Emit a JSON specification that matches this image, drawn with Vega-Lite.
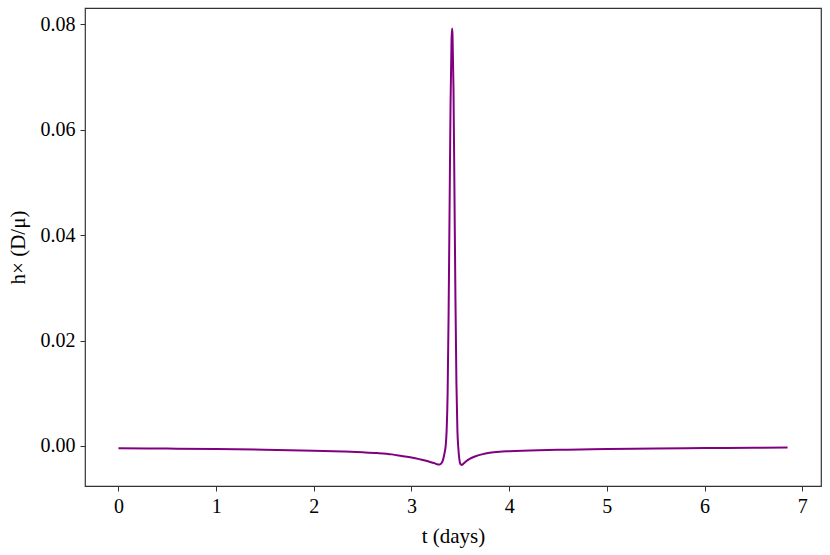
{
  "$schema": "https://vega.github.io/schema/vega-lite/v6.json",
  "autosize": "none",
  "width": 736,
  "height": 478,
  "padding": {"left": 85, "top": 8, "right": 9, "bottom": 69},
  "background": "white",
  "config": {
    "view": {"stroke": "#333333", "strokeWidth": 1.2},
    "font": "Liberation Serif",
    "axis": {
      "grid": false,
      "domain": false,
      "tickColor": "#333333",
      "tickSize": 5,
      "tickWidth": 1,
      "labelColor": "black",
      "titleColor": "black",
      "labelFont": "Liberation Serif",
      "titleFont": "Liberation Serif",
      "labelFontSize": 20,
      "titleFontSize": 21,
      "titleFontWeight": "normal",
      "labelPadding": 5
    }
  },
  "data": {
    "values": [
      {"t": 0.0, "h": -0.00045},
      {"t": 0.5, "h": -0.0005},
      {"t": 1.0, "h": -0.0006},
      {"t": 1.5, "h": -0.0007},
      {"t": 2.0, "h": -0.0009},
      {"t": 2.3, "h": -0.00105},
      {"t": 2.5, "h": -0.0012},
      {"t": 2.65, "h": -0.00135},
      {"t": 2.8, "h": -0.0016},
      {"t": 2.9, "h": -0.0019},
      {"t": 3.0, "h": -0.0022},
      {"t": 3.08, "h": -0.0025},
      {"t": 3.15, "h": -0.0028},
      {"t": 3.2, "h": -0.0031},
      {"t": 3.24, "h": -0.0033},
      {"t": 3.27, "h": -0.0035},
      {"t": 3.29, "h": -0.0035},
      {"t": 3.31, "h": -0.0032},
      {"t": 3.325, "h": -0.0025},
      {"t": 3.34, "h": -0.0012},
      {"t": 3.35, "h": 0.0},
      {"t": 3.36, "h": 0.003},
      {"t": 3.37, "h": 0.010},
      {"t": 3.38, "h": 0.025},
      {"t": 3.39, "h": 0.045},
      {"t": 3.40, "h": 0.065},
      {"t": 3.41, "h": 0.077},
      {"t": 3.416, "h": 0.0792},
      {"t": 3.42, "h": 0.078},
      {"t": 3.43, "h": 0.068},
      {"t": 3.44, "h": 0.048},
      {"t": 3.45, "h": 0.028},
      {"t": 3.46, "h": 0.012},
      {"t": 3.47, "h": 0.003},
      {"t": 3.48, "h": -0.0005},
      {"t": 3.49, "h": -0.0025},
      {"t": 3.50, "h": -0.0034},
      {"t": 3.515, "h": -0.0036},
      {"t": 3.53, "h": -0.0034},
      {"t": 3.56, "h": -0.0029},
      {"t": 3.60, "h": -0.0024},
      {"t": 3.65, "h": -0.0020},
      {"t": 3.72, "h": -0.0016},
      {"t": 3.80, "h": -0.0013},
      {"t": 3.90, "h": -0.0011},
      {"t": 4.0, "h": -0.0010},
      {"t": 4.3, "h": -0.0008},
      {"t": 4.6, "h": -0.0007},
      {"t": 5.0, "h": -0.0006},
      {"t": 5.5, "h": -0.0005},
      {"t": 6.0, "h": -0.0004},
      {"t": 6.5, "h": -0.00035},
      {"t": 6.85, "h": -0.0003}
    ]
  },
  "mark": {"type": "line", "color": "#800080", "strokeWidth": 2, "interpolate": "monotone"},
  "encoding": {
    "x": {
      "field": "t", "type": "quantitative",
      "scale": {"domain": [-0.3425, 7.1925], "nice": false, "zero": false},
      "axis": {"values": [0, 1, 2, 3, 4, 5, 6, 7], "format": "d", "title": "t (days)", "titlePadding": 9}
    },
    "y": {
      "field": "h", "type": "quantitative",
      "scale": {"domain": [-0.0076, 0.0831], "nice": false, "zero": false},
      "axis": {"values": [0, 0.02, 0.04, 0.06, 0.08], "format": ".2f", "title": "h× (D/μ)", "titlePadding": 12}
    }
  }
}
